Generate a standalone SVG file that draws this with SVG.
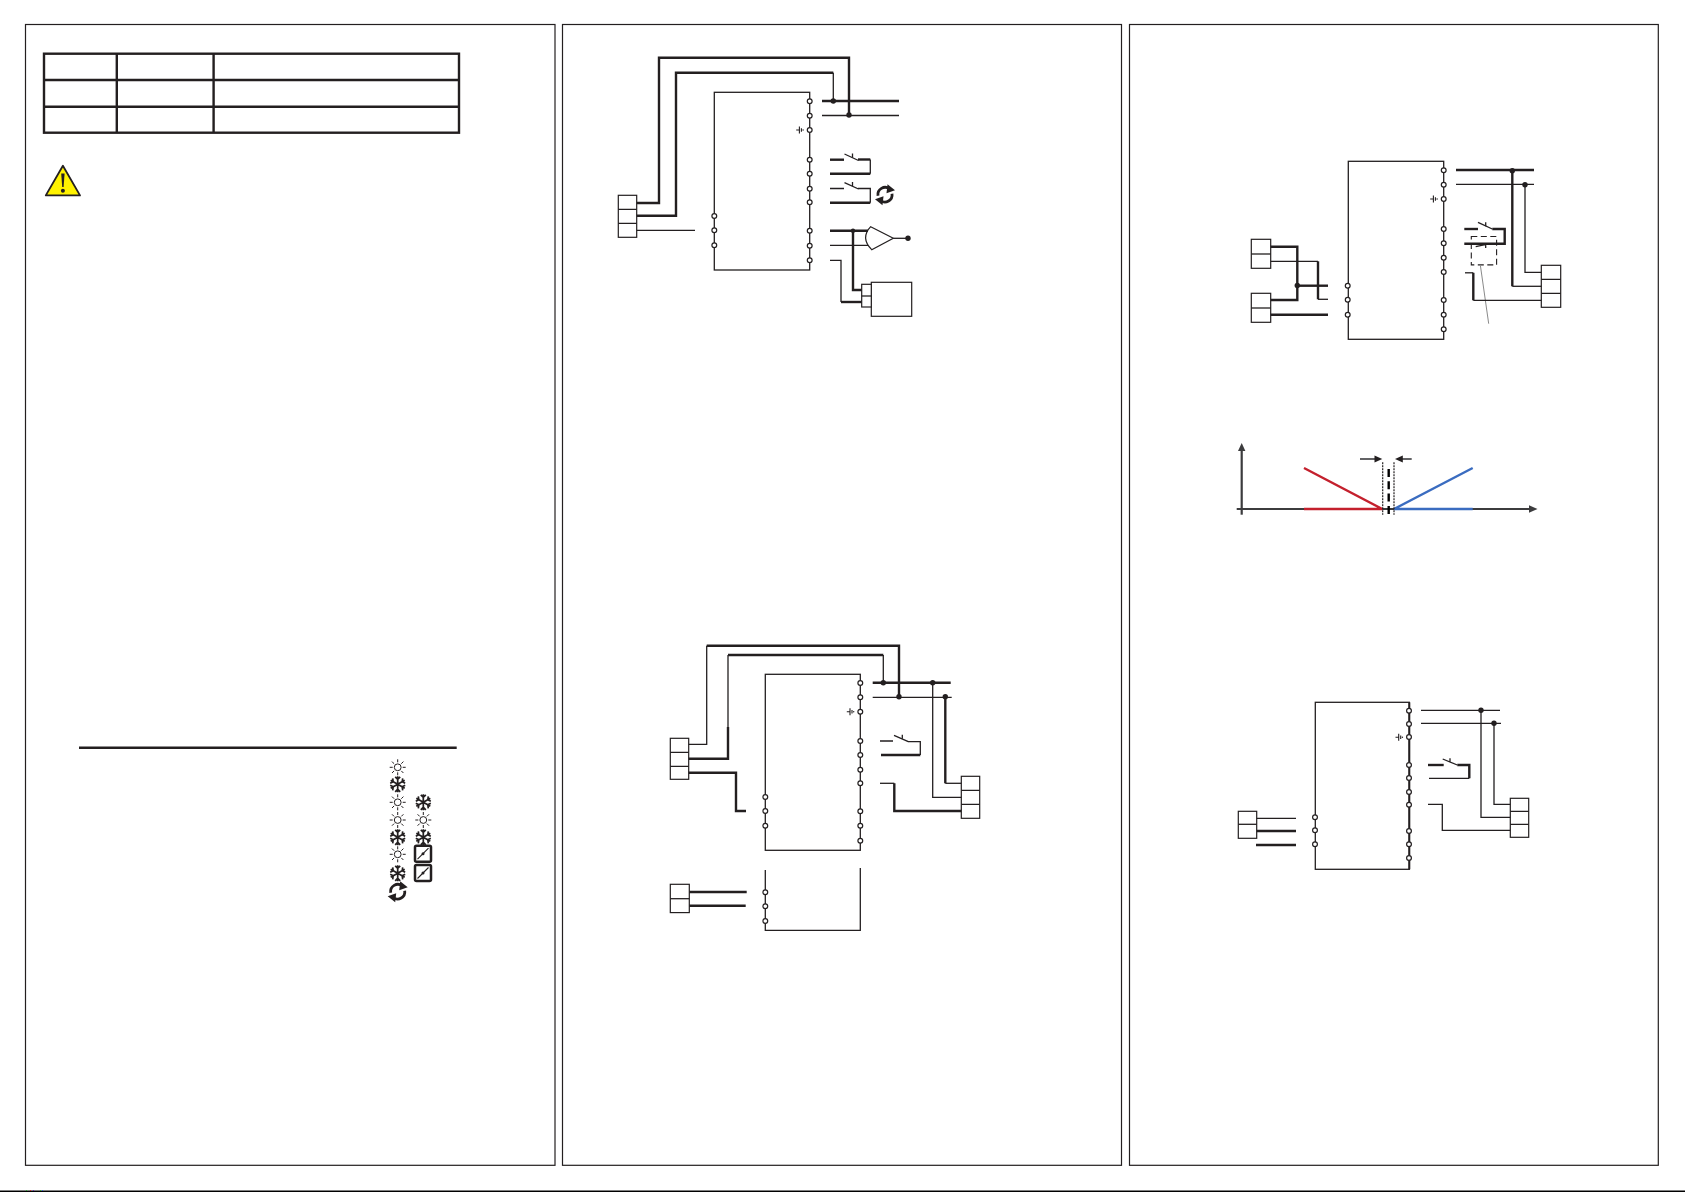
<svg xmlns="http://www.w3.org/2000/svg" width="1685" height="1192" viewBox="0 0 1685 1192">
<style>
.w{fill:none;stroke:#231f20;stroke-linejoin:miter}
.n{stroke-width:1.3}
.k{stroke-width:2.4}
.b{fill:none;stroke:#231f20;stroke-width:1.3}
.t{fill:#fff;stroke:#231f20;stroke-width:1.2}
.d{fill:#231f20}
.c{fill:#fff;stroke:#231f20;stroke-width:1.2}
.ax{fill:none;stroke:#3c3c3e;stroke-width:2.2}
</style>
<defs>
<circle id="tm" r="2.4" class="t"/>
<circle id="dot" r="2.7" class="d"/>
<g id="gnd" fill="none" stroke="#231f20" stroke-width="1.1"><path d="M-13.5,0H-10.3M-10.3,-3.5V3.5M-8.3,-1.8V1.8"/><circle cx="-6.6" r="0.7" fill="#231f20" stroke="none"/></g>
<g id="sun" fill="none" stroke="#231f20" stroke-width="1"><circle r="3.4"/><path d="M0,-8V-5M0,5V8M-8,0H-5M5,0H8M-5.7,-5.7L-3.6,-3.6M3.6,3.6L5.7,5.7M-5.7,5.7L-3.6,3.6M3.6,-3.6L5.7,-5.7"/></g>
<g id="snow" fill="none" stroke="#231f20" stroke-width="1.7"><path d="M0,-8V8M-7,-4L7,4M-7,4L7,-4M-2.5,-7.5L0,-5L2.5,-7.5M-2.5,7.5L0,5L2.5,7.5M-7.5,-1L-4.5,-2.5L-5,-6M7.5,1L4.5,2.5L5,6M-7.5,1L-4.5,2.5L-5,6M7.5,-1L4.5,-2.5L5,-6"/></g>
<g id="dmp"><rect x="-8" y="-8" width="16" height="16" rx="1.5" fill="none" stroke="#231f20" stroke-width="2.5"/><path d="M-5.5,5.5L5.5,-5.5" stroke="#231f20" stroke-width="1.1"/><circle r="1.5" class="d"/></g>
<g id="cyc"><path d="M-7,1A7.2,7.2 0 0 1 4.5,-5.8" fill="none" stroke="#231f20" stroke-width="2.8"/><path d="M2.5,-10.5L10,-4.5L1.5,-1.5Z" class="d"/><path d="M7,-1A7.2,7.2 0 0 1 -4.5,5.8" fill="none" stroke="#231f20" stroke-width="2.8"/><path d="M-2.5,10.5L-10,4.5L-1.5,1.5Z" class="d"/></g>
</defs>
<rect width="1685" height="1192" fill="#fff"/>
<g id="page-frames" fill="none" stroke="#231f20" stroke-width="1.2">
<rect x="25.5" y="24.5" width="529.5" height="1140.8"/>
<rect x="562.5" y="24.5" width="559" height="1140.8"/>
<rect x="1129.5" y="24.5" width="528.8" height="1140.8"/>
</g>
<g id="page-edge">
<path d="M0,1191.3H1685" fill="none" stroke="#000" stroke-width="1.4"/>
<rect x="26" y="1190" width="1" height="1" fill="#3a3"/><rect x="30" y="1190" width="1" height="1" fill="#c33"/><rect x="33" y="1190" width="1" height="1" fill="#63a"/><rect x="40" y="1190" width="1" height="1" fill="#3a3"/><rect x="42" y="1190" width="1" height="1" fill="#36c"/>
</g>
<g id="table" fill="none" stroke="#231f20" stroke-width="2.4">
<rect x="44" y="53.7" width="415" height="79"/>
<path d="M44,80H459M44,106.7H459M116.8,53.7V132.7M213.6,53.7V132.7"/>
</g>
<g id="warning">
<path d="M62.9,165.7L45.8,195.4H80Z" fill="#fff200" stroke="#231f20" stroke-width="1.8" stroke-linejoin="round"/>
<path d="M61.2,173.5H64.6L63.6,187H62.2Z" class="d"/><circle cx="62.9" cy="190.8" r="2" class="d"/>
</g>
<g id="legend">
<path d="M79,747.7H456.7" fill="none" stroke="#231f20" stroke-width="2.4"/>
<use href="#sun" x="397.7" y="767.3"/>
<use href="#snow" x="397.7" y="784.3"/>
<use href="#sun" x="397.7" y="802.3"/><use href="#snow" x="423.3" y="802.3"/>
<use href="#sun" x="397.7" y="820"/><use href="#sun" x="423.3" y="820"/>
<use href="#snow" x="397.7" y="837.3"/><use href="#snow" x="423.3" y="837.3"/>
<use href="#sun" x="397.7" y="854.3"/><use href="#dmp" x="423" y="853.7"/>
<use href="#snow" x="397.7" y="873.3"/><use href="#dmp" x="423" y="873"/>
<use href="#cyc" x="397.7" y="891.7"/>
</g>

<!-- Diagram A -->
<g id="A-controller">
<rect x="714.3" y="92.3" width="95.4" height="177.7" class="b"/>
<use href="#tm" x="809.7" y="101.3"/><use href="#tm" x="809.7" y="115.7"/><use href="#tm" x="809.7" y="130"/><use href="#tm" x="809.7" y="159.7"/><use href="#tm" x="809.7" y="173.7"/><use href="#tm" x="809.7" y="188.7"/><use href="#tm" x="809.7" y="202.3"/><use href="#tm" x="809.7" y="230.7"/><use href="#tm" x="809.7" y="245.7"/><use href="#tm" x="809.7" y="260.3"/>
<use href="#tm" x="714.3" y="216"/><use href="#tm" x="714.3" y="230.3"/><use href="#tm" x="714.3" y="245.3"/>
<use href="#gnd" x="809.7" y="130"/>
</g>
<g id="A-block-left"><rect x="618.3" y="195.3" width="18.4" height="42" class="c"/><path d="M618.3,209.3H636.7M618.3,223.3H636.7" class="b"/></g>
<g id="A-block-right"><rect x="871.3" y="282.3" width="40.4" height="34" class="c"/><rect x="861.7" y="284.3" width="9.6" height="22.7" class="c"/><path d="M861.7,296H871.3" class="b"/></g>
<g id="A-gate"><path d="M870.7,226.7L893.3,238.3L871.7,249.7Q860,238 870.7,226.7Z" fill="#fff" stroke="#231f20" stroke-width="1.2"/></g>
<g id="A-connectors">
<path class="w k" d="M636.7,203H659V57.7H849V115"/>
<path class="w k" d="M636.7,215.7H676V72.7H833.3"/>
<path class="w n" d="M833.3,72.7V101"/>
<path class="w n" d="M636.7,230.3H695"/>
<path class="w k" d="M822,101H899"/>
<path class="w n" d="M822,115.5H899"/>
<path class="w k" d="M830,159.7H844"/>
<path class="w n" d="M844.5,154L858.5,160.5"/><path class="w n" d="M852.5,153.5V157.5"/>
<path class="w k" d="M858,159.5H870.3"/><path class="w n" d="M870.3,159.5V173.7"/>
<path class="w k" d="M870.3,173.7H830"/>
<path class="w n" d="M830,188.5H844M844.5,182.7L858.5,189"/><path class="w n" d="M852.5,182V186"/>
<path class="w n" d="M858,188.5H870.3V202.7"/><path class="w k" d="M870.3,202.7H830"/>
<path class="w k" d="M830,230.7H868"/><path class="w n" d="M830,245.3H868"/>
<path class="w k" d="M853,230.7V290H861.7"/>
<path class="w n" d="M893.3,238.3H908"/>
<path class="w n" d="M830,260.3H841V302"/><path class="w k" d="M841,302H861.7"/>
<use href="#dot" x="833.3" y="101"/><use href="#dot" x="849" y="115"/><circle cx="853" cy="230.7" r="2.2" class="d"/><use href="#dot" x="908" y="238.3"/>
</g>
<use href="#cyc" x="885" y="194.7"/>

<!-- Diagram B -->
<g id="B-controller">
<rect x="765.3" y="674.3" width="95" height="176" class="b"/>
<use href="#tm" x="860.3" y="683"/><use href="#tm" x="860.3" y="697.3"/><use href="#tm" x="860.3" y="711.7"/><use href="#tm" x="860.3" y="741"/><use href="#tm" x="860.3" y="755"/><use href="#tm" x="860.3" y="769.7"/><use href="#tm" x="860.3" y="783.3"/><use href="#tm" x="860.3" y="811.3"/><use href="#tm" x="860.3" y="825.7"/><use href="#tm" x="860.3" y="840.7"/>
<use href="#tm" x="765.3" y="797"/><use href="#tm" x="765.3" y="811"/><use href="#tm" x="765.3" y="825.7"/>
<use href="#gnd" x="860.3" y="711.7"/>
</g>
<g id="B-extension">
<path class="b" d="M765.3,870V930.3H860.3V868"/>
<use href="#tm" x="765.3" y="892.3"/><use href="#tm" x="765.3" y="906.3"/><use href="#tm" x="765.3" y="921"/>
</g>
<g id="B-block-left"><rect x="670.3" y="738.3" width="18.4" height="41" class="c"/><path d="M670.3,752.3H688.7M670.3,766.3H688.7" class="b"/></g>
<g id="B-block-right"><rect x="961.3" y="776.3" width="18.4" height="42" class="c"/><path d="M961.3,790.3H979.7M961.3,804.3H979.7" class="b"/></g>
<g id="B-block-lower"><rect x="670.3" y="884.3" width="19" height="28.3" class="c"/><path d="M670.3,898.7H689.3" class="b"/></g>
<g id="B-connectors">
<path class="w n" d="M688.7,744.3H706.7V645.7"/>
<path class="w k" d="M706.7,645.7H899V696.7"/>
<path class="w k" d="M688.7,758.7H728V727"/><path class="w n" d="M728,727V655"/>
<path class="w k" d="M728,655H883.3"/><path class="w n" d="M883.3,655V682.7"/>
<path class="w k" d="M688.7,772.7H736V811H746"/>
<path class="w k" d="M872.7,682.7H950.7"/><path class="w n" d="M872.7,697.3H951.7"/>
<path class="w n" d="M932.7,682.7V797.3H961.3"/>
<path class="w k" d="M945.3,696.7V783.3"/><path class="w n" d="M945.3,783.3H961.3"/>
<path class="w n" d="M880,741H893M894,735.3L908.3,741.7"/><path class="w n" d="M902.3,734.7V738.7"/>
<path class="w n" d="M908,741.7H920.3V755"/><path class="w k" d="M920.3,755H881"/>
<path class="w n" d="M880,783.3H894.3"/><path class="w k" d="M894.3,783.3V811H961.3"/>
<path class="w k" d="M689.3,892H746.7M689.3,905.7H745.7"/>
<use href="#dot" x="883.3" y="682.7"/><use href="#dot" x="899" y="696.7"/><use href="#dot" x="932.7" y="682.7"/><use href="#dot" x="945.3" y="696.7"/>
</g>

<!-- Diagram C -->
<g id="C-controller">
<rect x="1348.3" y="161.3" width="95.4" height="178" class="b"/>
<use href="#tm" x="1443.7" y="170.3"/><use href="#tm" x="1443.7" y="184.7"/><use href="#tm" x="1443.7" y="199"/><use href="#tm" x="1443.7" y="229"/><use href="#tm" x="1443.7" y="243.3"/><use href="#tm" x="1443.7" y="257.7"/><use href="#tm" x="1443.7" y="272"/><use href="#tm" x="1443.7" y="300"/><use href="#tm" x="1443.7" y="314.7"/><use href="#tm" x="1443.7" y="329.3"/>
<use href="#tm" x="1347.7" y="285.7"/><use href="#tm" x="1347.7" y="299.7"/><use href="#tm" x="1347.7" y="314.7"/>
<use href="#gnd" x="1443.7" y="199"/>
</g>
<g id="C-block-top"><rect x="1251.3" y="239.3" width="19.4" height="29" class="c"/><path d="M1251.3,254H1270.7" class="b"/></g>
<g id="C-block-bottom"><rect x="1251.3" y="293.3" width="19.4" height="29" class="c"/><path d="M1251.3,308H1270.7" class="b"/></g>
<g id="C-block-right"><rect x="1541.3" y="265.3" width="19.4" height="42" class="c"/><path d="M1541.3,279.3H1560.7M1541.3,293.3H1560.7" class="b"/></g>
<g id="C-dashed"><rect x="1471.3" y="236.5" width="25.3" height="28.4" fill="none" stroke="#231f20" stroke-width="1.1" stroke-dasharray="6 3.5"/><path d="M1480.3,264.9L1488.7,323.7" fill="none" stroke="#8a8a8a" stroke-width="1"/></g>
<g id="C-connectors">
<path class="w k" d="M1270.7,246.7H1297.3V300H1270.7"/>
<path class="w k" d="M1297.3,285.7H1328"/>
<path class="w n" d="M1270.7,261.3H1318"/><path class="w k" d="M1318,261.3V299.3"/><path class="w n" d="M1318,299.3H1328"/>
<path class="w k" d="M1270.7,314.7H1328"/>
<path class="w k" d="M1456,170H1534"/><path class="w n" d="M1456,184.3H1534"/>
<path class="w k" d="M1512.3,170V286.3"/><path class="w n" d="M1512.3,286.3H1541.3"/>
<path class="w n" d="M1525,184.7V272.3H1541.3"/>
<path class="w k" d="M1464.3,229H1478"/><path class="w n" d="M1478,222.3L1492.3,229"/><path class="w n" d="M1485.7,222.3V226.3"/>
<path class="w k" d="M1492.3,229H1504.7V243.7H1464.3"/>
<path class="w n" d="M1475.7,246.7L1490,243.7M1485.7,243.7V248"/>
<path class="w n" d="M1465,272.8H1473.3"/><path class="w k" d="M1473.3,272.8V300.3"/><path class="w n" d="M1473.3,300.3H1541.3"/>
<use href="#dot" x="1512.3" y="170.7"/><use href="#dot" x="1525" y="184.7"/><use href="#dot" x="1297.3" y="285.5"/>
</g>

<!-- Chart -->
<g id="chart">
<path class="ax" d="M1241.7,449V514.7"/><path d="M1241.7,443L1245.4,451H1238Z" fill="#3c3c3e"/>
<path class="ax" d="M1236.7,509H1530"/><path d="M1537.5,509L1529,505.3V512.7Z" fill="#3c3c3e"/>
<path d="M1304,468L1382.3,509H1304" fill="none" stroke="#c4202d" stroke-width="2.4"/>
<path d="M1394,509L1472.7,468M1394,509H1472.7" fill="none" stroke="#3a6cc0" stroke-width="2.4"/>
<path d="M1382.7,462.3V514.7M1394,462.3V514.7" fill="none" stroke="#231f20" stroke-width="1.2" stroke-dasharray="2 1"/>
<path d="M1388.7,469V517" fill="none" stroke="#000" stroke-width="2.4" stroke-dasharray="8 4.3"/>
<path d="M1360,459H1376" fill="none" stroke="#3c3c3e" stroke-width="1.6"/><path d="M1382.3,459L1374.5,455.6V462.4Z" fill="#231f20"/>
<path d="M1411.7,459H1401" fill="none" stroke="#3c3c3e" stroke-width="1.6"/><path d="M1395,459L1402.8,455.6V462.4Z" fill="#231f20"/>
</g>

<!-- Diagram D -->
<g id="D-controller">
<rect x="1315.3" y="702.3" width="94" height="167" class="b"/>
<path d="M1409.3,702.3V869.3" fill="none" stroke="#231f20" stroke-width="2"/>
<use href="#tm" x="1409" y="710.7"/><use href="#tm" x="1409" y="724"/><use href="#tm" x="1409" y="737"/><use href="#tm" x="1409" y="765"/><use href="#tm" x="1409" y="778"/><use href="#tm" x="1409" y="792"/><use href="#tm" x="1409" y="804.7"/><use href="#tm" x="1409" y="831"/><use href="#tm" x="1409" y="844.3"/><use href="#tm" x="1409" y="858"/>
<use href="#tm" x="1315" y="817.3"/><use href="#tm" x="1315" y="830.3"/><use href="#tm" x="1315" y="844.3"/>
<use href="#gnd" x="1409" y="737.3"/>
</g>
<g id="D-block-left"><rect x="1238.3" y="811.3" width="18.4" height="27" class="c"/><path d="M1238.3,824.3H1256.7" class="b"/></g>
<g id="D-block-right"><rect x="1510.3" y="798.3" width="18.4" height="39" class="c"/><path d="M1510.3,811.3H1528.7M1510.3,824.3H1528.7" class="b"/></g>
<g id="D-connectors">
<path class="w n" d="M1421,710.3H1500M1421,723.3H1501"/>
<path class="w n" d="M1481,710.3V817.3H1510.3"/>
<path class="w n" d="M1494,723.3V804.3H1510.3"/>
<path class="w k" d="M1428,765H1443.7"/><path class="w n" d="M1442.7,759L1457.3,765M1450,758.3V762.3"/>
<path class="w k" d="M1457.3,765H1469.3V778.3"/><path class="w n" d="M1469.3,778.3H1429"/>
<path class="w n" d="M1428,804.3H1442.3V830.3H1510.3"/>
<path class="w n" d="M1256.7,818.3H1296"/>
<path class="w k" d="M1256.7,831H1296M1256,845H1296"/>
<use href="#dot" x="1481" y="710.3"/><use href="#dot" x="1494" y="723.3"/>
</g>
</svg>
